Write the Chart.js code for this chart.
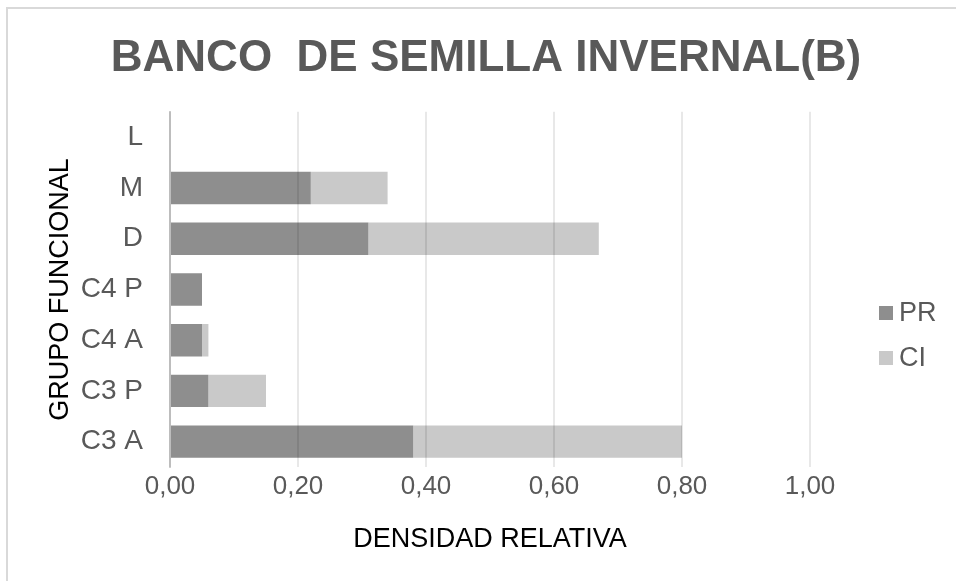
<!DOCTYPE html>
<html>
<head>
<meta charset="utf-8">
<script src="https://cdn.jsdelivr.net/npm/chart.js@4/dist/chart.umd.min.js"></script>
<style>
  html, body { margin: 0; padding: 0; background: #ffffff; }
  #wrap { position: relative; width: 956px; height: 581px; overflow: hidden; }
  #frame { position: absolute; left: 6px; top: 7px; width: 960px; height: 590px;
           border-top: 2px solid #d9d9d9; border-left: 2px solid #d9d9d9; pointer-events: none; }
  #legend { position: absolute; left: 879px; top: 290px; font-family: "Liberation Sans", Arial, sans-serif;
            font-size: 27px; color: #595959; }
  .item { display: flex; align-items: center; height: 45px; }
  .sw { width: 14px; height: 14px; margin-right: 6px; }
</style>
</head>
<body>
<div id="wrap">
  <canvas id="c" width="956" height="581"></canvas>
  <div id="frame"></div>
  <div id="legend"></div>
</div>
<script>
const categories = ['L', 'M', 'D', 'C4 P', 'C4 A', 'C3 P', 'C3 A'];
const seriesNames = ['PR', 'CI'];
const prValues = [0, 0.22, 0.31, 0.05, 0.05, 0.06, 0.38];
const ciValues = [0, 0.12, 0.36, 0, 0.01, 0.09, 0.42];
const xTickLabels = ['0,00', '0,20', '0,40', '0,60', '0,80', '1,00'];
const colors = ['#8e8e8e', '#c9c9c9'];

const FONT = '"Liberation Sans", Arial, sans-serif';

const chart = new Chart(document.getElementById('c'), {
  type: 'bar',
  data: {
    labels: categories,
    datasets: [
      { label: seriesNames[0], data: prValues, backgroundColor: colors[0], borderWidth: 0,
        barPercentage: 0.64, categoryPercentage: 1.0 },
      { label: seriesNames[1], data: ciValues, backgroundColor: colors[1], borderWidth: 0,
        barPercentage: 0.64, categoryPercentage: 1.0 }
    ]
  },
  options: {
    indexAxis: 'y',
    responsive: false,
    animation: false,
    layout: { padding: { left: 16, right: 0, top: 0, bottom: 0 } },
    plugins: {
      legend: { display: false },
      tooltip: { enabled: false },
      title: {
        display: true,
        text: 'BANCO  DE SEMILLA INVERNAL(B)',
        color: '#595959',
        font: { family: FONT, size: 44, weight: 'bold' },
        padding: { top: 32, bottom: 27 }
      }
    },
    scales: {
      x: {
        stacked: true,
        min: 0, max: 1,
        ticks: {
          stepSize: 0.2,
          color: '#595959',
          font: { family: FONT, size: 26 },
          padding: 4,
          callback: (v, i) => xTickLabels[i]
        },
        grid: { color: 'rgba(0,0,0,0.09)', lineWidth: 2, drawTicks: false, z: 1 },
        border: { display: false },
        title: {
          display: true, text: 'DENSIDAD RELATIVA', color: '#000000',
          font: { family: FONT, size: 27 }, padding: { top: 0, bottom: 25 }
        },
        afterFit: (s) => { s.height = 114; }
      },
      y: {
        stacked: true,
        ticks: { color: '#595959', font: { family: FONT, size: 28 }, padding: 27 },
        grid: { display: false, drawTicks: false },
        border: { display: true, color: '#d0d0d0', width: 2 },
        title: {
          display: true, text: 'GRUPO FUNCIONAL', color: '#000000',
          font: { family: FONT, size: 27 }, padding: { top: 28, bottom: 0 }
        },
        afterFit: (s) => { s.width = 154; }
      },
      ySpacer: {
        type: 'linear',
        position: 'right',
        display: true,
        grid: { display: false, drawTicks: false },
        border: { display: false },
        ticks: { display: false },
        afterFit: (s) => { s.width = 146; }
      }
    }
  }
});

const lg = document.getElementById('legend');
chart.data.datasets.forEach((ds) => {
  const it = document.createElement('div');
  it.className = 'item';
  const sw = document.createElement('span');
  sw.className = 'sw';
  sw.style.background = ds.backgroundColor;
  const tx = document.createElement('span');
  tx.textContent = ds.label;
  it.appendChild(sw); it.appendChild(tx);
  lg.appendChild(it);
});
</script>
</body>
</html>
